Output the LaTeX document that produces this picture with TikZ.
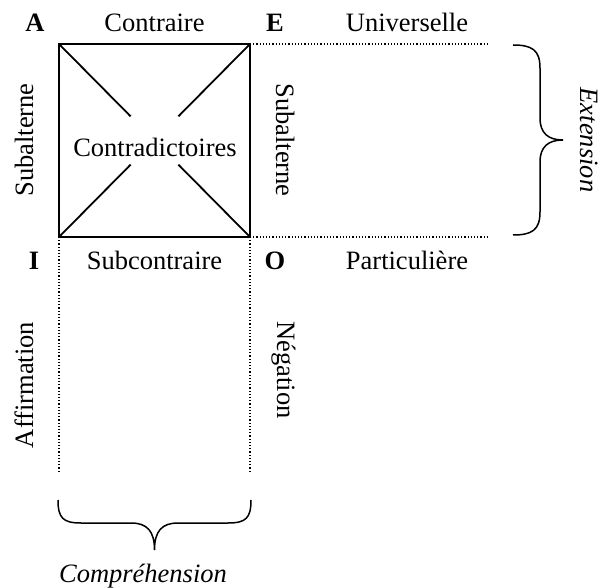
\documentclass[tikz,border=0pt]{standalone}
\usepackage{fontspec}
\setmainfont{Liberation Serif}
\usetikzlibrary{calc}

\begin{document}
\begin{tikzpicture}[x=0.5pt,y=-0.5pt,
        every node/.style={font=\fontsize{13.25}{15}\selectfont, inner sep=0pt},
        trait/.style={line width=0.9pt},
        pointille/.style={densely dotted, line width=0.6pt},
        accolade/.style={line width=0.75pt}]
        \useasboundingbox (0,0) rectangle (605,588);

        % les quatre sommets du carré
        \coordinate (A) at (59,44);
        \coordinate (E) at (250,44);
        \coordinate (O) at (250,237);
        \coordinate (I) at (59,237);
        % bouts des pointillés
        \coordinate (Ed) at (488,44);
        \coordinate (Od) at (488,237);
        \coordinate (Ib) at (59,473);
        \coordinate (Ob) at (250,473);

        % le carré et ses diagonales, coupées au centre
        \draw[trait] (A) -- (E) -- (O) -- (I) -- cycle;
        \draw[trait] (A) -- ($(A)!0.375!(O)$);
        \draw[trait] ($(A)!0.625!(O)$) -- (O);
        \draw[trait] (E) -- ($(E)!0.375!(I)$);
        \draw[trait] ($(E)!0.625!(I)$) -- (I);

        % pointillés
        \draw[pointille] (E) -- (Ed);
        \draw[pointille] (O) -- (Od);
        \draw[pointille] (I) -- (Ib);
        \draw[pointille] (O) -- (Ob);

        % accolades
        \draw[accolade] (513,45) .. controls (532,45) and (540,50) .. (540,68)
            -- (540,118) .. controls (540,133) and (548,140) .. (563,140)
            .. controls (548,140) and (540,147) .. (540,162)
            -- (540,212) .. controls (540,230) and (532,235) .. (513,235);
        \draw[accolade] (58,500) .. controls (58,518) and (63,523) .. (81,523)
            -- (131,523) .. controls (147,523) and (154.5,531) .. (154.5,550)
            .. controls (154.5,531) and (162,523) .. (178,523)
            -- (228,523) .. controls (246,523) and (251,518) .. (251,500);

        % lettres et noms des relations
        \node[anchor=base] (labA) at (35,31.5) {\textbf{A}};
        \node[anchor=base] (labE) at (275,31.5) {\textbf{E}};
        \node[anchor=base] (labI) at (34,270) {\textbf{I}};
        \node[anchor=base] (labO) at (275,270) {\textbf{O}};
        \node[anchor=base] (contraire) at (154.5,31.5) {Contraire};
        \node[anchor=base] (univ) at (407,31.5) {Universelle};
        \node[anchor=base] (subcontraire) at (154.5,270) {Subcontraire};
        \node[anchor=base] (partic) at (407,270) {Particulière};
        \node[anchor=base] (contradic) at (155,157) {Contradictoires};
        \node[anchor=base, rotate=90] (subalt1) at (33,140) {Subalterne};
        \node[anchor=base, rotate=-90] (subalt2) at (276,140) {Subalterne};
        \node[anchor=base, rotate=90] (affirm) at (33,385) {Affirmation};
        \node[anchor=base, rotate=-90] (negat) at (277,370) {Négation};
        \node[anchor=base, rotate=-90] (exten) at (580,140) {\textit{Extension}};
        \node[anchor=base] (compr) at (143,582) {\textit{Compréhension}};
    \end{tikzpicture}
\end{document}
